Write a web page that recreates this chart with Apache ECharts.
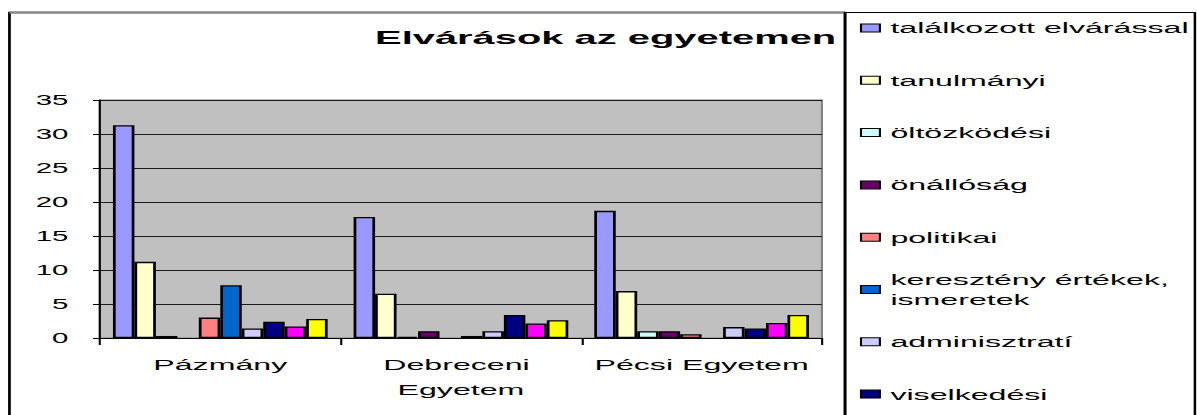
<!DOCTYPE html>
<html>
<head>
<meta charset="utf-8">
<title>Elvárások az egyetemen</title>
<script src="https://cdn.jsdelivr.net/npm/echarts@6/dist/echarts.min.js"></script>
<style>
    html, body { margin: 0; padding: 0; background: #fff; overflow: hidden; }
    /* the original picture is stretched sideways, so the chart is drawn narrow and widened */
    #main { width: 570px; height: 415px; transform: scaleX(2.1); transform-origin: 0 0; }
</style>
</head>
<body>
<div id="main"></div>
<script>
    var categories = ['Pázmány', 'Debreceni Egyetem', 'Pécsi Egyetem'];

    var yMin = 0, yMax = 35, yStep = 5;

    // one array per series, values per university
    var talalkozott = [31.3, 17.8, 18.7];
    var tanulmanyi = [11.2, 6.5, 6.9];
    var oltozkodesi = [0.3, 0.15, 1.0];
    var onallosag = [0, 1.0, 1.0];
    var politikai = [3.0, 0, 0.55];
    var kereszteny = [7.75, 0.3, 0];
    var adminisztrati = [1.4, 1.0, 1.6];
    var viselkedesi = [2.4, 3.4, 1.4];
    var series9 = [1.7, 2.15, 2.2];     // legend entry cut off in the picture
    var series10 = [2.8, 2.6, 3.4];     // legend entry cut off in the picture

    var legendNames = ['találkozott elvárással', 'tanulmányi', 'öltözködési', 'önállóság',
        'politikai', 'keresztény értékek, ismeretek', 'adminisztratí', 'viselkedési'];
    var allValues = [talalkozott, tanulmanyi, oltozkodesi, onallosag, politikai,
        kereszteny, adminisztrati, viselkedesi, series9, series10];

    var colors = ['#9999FF', '#FFFFCC', '#CCFFFF', '#660066', '#FF8080',
        '#0066CC', '#CCCCFF', '#000080', '#FF00FF', '#FFFF00'];

    var font = 'Liberation Sans, Arial, sans-serif';

    var chart = echarts.init(document.getElementById('main'), null, {renderer: 'svg'});

    var series = allValues.map(function (vals, i) {
        return {
            type: 'bar',
            name: legendNames[i] || ('s' + (i + 1)),
            // Excel leaves zero bars out
            data: vals.map(function (v) { return v === 0 ? '-' : v; }),
            barGap: '0%',
            barCategoryGap: '10.8%',
            itemStyle: { color: colors[i], borderColor: '#000', borderWidth: 1.3 }
        };
    });

    var legends = legendNames.map(function (name, i) {
        var center = 28 + i * 52.3;
        var twoLines = name.indexOf(', ') > 0;
        return {
            data: [name],
            orient: 'vertical',
            left: 409.5,
            top: twoLines ? center - 30 : center - 10,
            padding: 0,
            icon: 'rect',
            itemWidth: 9,
            itemHeight: 8,
            selectedMode: false,
            itemStyle: { borderColor: '#000', borderWidth: 1 },
            formatter: function (n) { return n.replace(', ', ',\n'); },
            textStyle: {
                fontFamily: font, fontSize: 15.3, color: '#000', lineHeight: 20,
                padding: twoLines ? [20, 0, 0, 0] : 0
            }
        };
    });

    chart.setOption({
        animation: false,
        title: {
            text: 'Elvárások az egyetemen',
            left: 178.6,
            top: 27,
            padding: 0,
            textStyle: { fontFamily: font, fontSize: 19, fontWeight: 'bold', color: '#000', lineHeight: 22 }
        },
        legend: legends,
        grid: {
            left: 47.6,
            right: 178.6,
            top: 100,
            bottom: 77,
            show: true,
            backgroundColor: '#C0C0C0',
            borderColor: '#808080',
            borderWidth: 1
        },
        xAxis: {
            type: 'category',
            data: categories,
            axisLine: { lineStyle: { color: '#000', width: 1 } },
            axisTick: { show: true, length: 7, lineStyle: { color: '#000' } },
            axisLabel: {
                interval: 0, margin: 14.5, fontFamily: font, fontSize: 15.3,
                lineHeight: 25, color: '#000', width: 112, overflow: 'break'
            }
        },
        yAxis: {
            type: 'value',
            min: yMin,
            max: yMax,
            interval: yStep,
            axisLine: { show: true, lineStyle: { color: '#000', width: 1 } },
            axisTick: { show: true, length: 3.3, lineStyle: { color: '#000' } },
            axisLabel: { margin: 15, fontFamily: font, fontSize: 14, color: '#000' },
            splitLine: { lineStyle: { color: '#1a1a1a', width: 1 } }
        },
        graphic: [
            {
                type: 'rect', silent: true,
                shape: { x: 4.5, y: 12.5, width: 397.9, height: 430 },
                style: { fill: 'none', stroke: '#000', lineWidth: 1.3 }
            },
            {
                type: 'line', silent: true,
                shape: { x1: 4.5, y1: 12.5, x2: 402.4, y2: 12.5 },
                style: { stroke: '#8a8a8a', lineWidth: 2 }
            },
            {
                type: 'rect', silent: true,
                shape: { x: 402.4, y: 12.5, width: 166.6, height: 430 },
                style: { fill: 'none', stroke: '#000', lineWidth: 1.2 }
            }
        ],
        series: series
    });
</script>
</body>
</html>
